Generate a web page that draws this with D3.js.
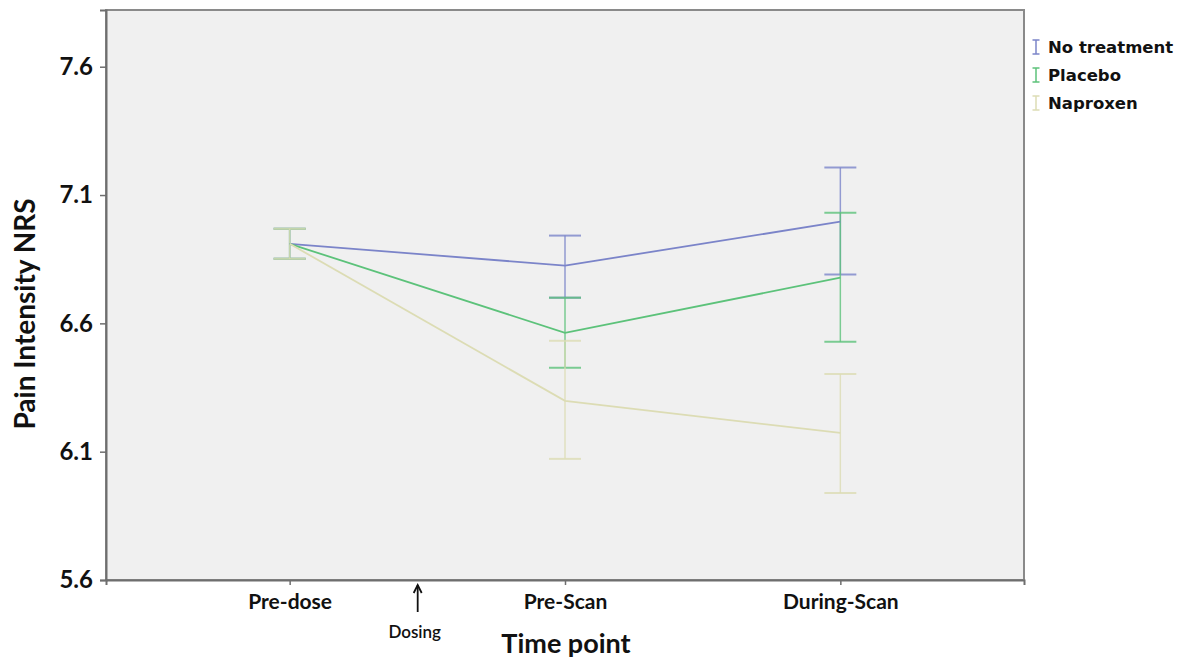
<!DOCTYPE html>
<html>
<head>
<meta charset="utf-8">
<script src="https://cdn.jsdelivr.net/npm/d3@7"></script>
<style>
  html, body { margin: 0; padding: 0; background: #ffffff; }
  svg { display: block; }
</style>
</head>
<body>
<svg id="chart" width="1191" height="661"></svg>
<script>
// ---- data ----
const timePoints = ["Pre-dose", "Pre-Scan", "During-Scan"];
const seriesNames = ["No treatment", "Placebo", "Naproxen"];
const noTreatmentMean = [6.91, 6.825, 6.996];
const noTreatmentLow  = [6.852, 6.700, 6.790];
const noTreatmentHigh = [6.969, 6.942, 7.207];
const placeboMean = [6.91, 6.563, 6.778];
const placeboLow  = [6.852, 6.427, 6.528];
const placeboHigh = [6.969, 6.700, 7.031];
const naproxenMean = [6.91, 6.298, 6.173];
const naproxenLow  = [6.852, 6.072, 5.939];
const naproxenHigh = [6.969, 6.532, 6.403];
const yTicks = [5.6, 6.1, 6.6, 7.1, 7.6];
const seriesColors = ["#7b84c9", "#5cc27a", "#dcdcb4"];

const series = [
  {name: seriesNames[0], mean: noTreatmentMean, low: noTreatmentLow, high: noTreatmentHigh, color: seriesColors[0]},
  {name: seriesNames[1], mean: placeboMean, low: placeboLow, high: placeboHigh, color: seriesColors[1]},
  {name: seriesNames[2], mean: naproxenMean, low: naproxenLow, high: naproxenHigh, color: seriesColors[2]}
];

// ---- layout ----
const svg = d3.select("#chart");
const L = 106, R = 1024, T = 10, B = 580;
const x = d3.scalePoint().domain(timePoints).range([L, R]).padding(0.667);
const y = d3.scaleLinear().domain([5.6, 7.821]).range([B, T]);
const font = "Lato, 'Open Sans', sans-serif";

// plot background
svg.append("rect").attr("x", L).attr("y", T).attr("width", R - L).attr("height", B - T)
  .attr("fill", "#f0f0f0").attr("stroke", "#8a8a8a").attr("stroke-width", 2);

// y axis
const yAxis = svg.append("g").attr("transform", `translate(${L},0)`)
  .call(d3.axisLeft(y).tickValues(yTicks).tickFormat(d3.format(".1f")).tickSize(6).tickPadding(7));
yAxis.select(".domain").attr("stroke", "#6e6e6e").attr("stroke-width", 2);
yAxis.selectAll(".tick line").attr("stroke", "#6e6e6e").attr("stroke-width", 1.5);
yAxis.selectAll(".tick text").attr("font-family", font).attr("font-weight", "bold")
  .attr("font-size", 24).attr("fill", "#111");

// x axis
const xAxis = svg.append("g").attr("transform", `translate(0,${B})`)
  .call(d3.axisBottom(x).tickSize(5).tickPadding(9));
xAxis.select(".domain").attr("stroke", "#6e6e6e").attr("stroke-width", 2);
xAxis.selectAll(".tick line").attr("stroke", "#6e6e6e").attr("stroke-width", 1.5);
xAxis.selectAll(".tick text").attr("font-family", font).attr("font-weight", "bold")
  .attr("font-size", 21).attr("fill", "#111");

// axis titles
svg.append("text").attr("transform", `translate(35,${(T + B) / 2 + 19}) rotate(-90)`)
  .attr("text-anchor", "middle").attr("font-family", font).attr("font-weight", "bold")
  .attr("font-size", 28).attr("fill", "#111").text("Pain Intensity NRS");
svg.append("text").attr("x", 566).attr("y", 653).attr("text-anchor", "middle")
  .attr("font-family", font).attr("font-weight", "bold").attr("font-size", 27)
  .attr("fill", "#111").text("Time point");

// dosing arrow
const step = x.step();
const dx = x(timePoints[0]) + step * 0.465;
svg.append("line").attr("x1", dx).attr("x2", dx).attr("y1", 612).attr("y2", 585)
  .attr("stroke", "#111").attr("stroke-width", 1.8);
svg.append("path").attr("d", `M${dx - 4},${593} L${dx},${585} L${dx + 4},${593}`)
  .attr("fill", "none").attr("stroke", "#111").attr("stroke-width", 1.8);
svg.append("text").attr("x", dx - 3).attr("y", 638).attr("text-anchor", "middle")
  .attr("font-family", font).attr("font-weight", 600).attr("font-size", 17)
  .attr("fill", "#111").text("Dosing");

// series
const capW = 16;
const line = d3.line().x((d, i) => x(timePoints[i])).y(d => y(d));
const plot = svg.append("g");
series.forEach(s => {
  const g = plot.append("g");
  timePoints.forEach((tp, i) => {
    const cx = x(tp);
    g.append("line").attr("x1", cx).attr("x2", cx).attr("y1", y(s.low[i])).attr("y2", y(s.high[i]))
      .attr("stroke", s.color).attr("stroke-width", 1.5).attr("stroke-opacity", 0.8);
    [s.low[i], s.high[i]].forEach(v => {
      g.append("line").attr("x1", cx - capW).attr("x2", cx + capW).attr("y1", y(v)).attr("y2", y(v))
        .attr("stroke", s.color).attr("stroke-width", 2).attr("stroke-opacity", 0.8);
    });
  });
});
series.forEach(s => {
  plot.append("path").datum(s.mean).attr("d", line).attr("fill", "none")
    .attr("stroke", s.color).attr("stroke-width", 1.8);
});

// legend
const legend = svg.append("g").attr("transform", `translate(${R + 12},47)`);
series.forEach((s, i) => {
  const g = legend.append("g").attr("transform", `translate(0,${i * 28})`);
  g.append("line").attr("x1", 0).attr("x2", 0).attr("y1", -7).attr("y2", 7).attr("stroke", s.color).attr("stroke-width", 1.5);
  g.append("line").attr("x1", -3.5).attr("x2", 3.5).attr("y1", -7).attr("y2", -7).attr("stroke", s.color).attr("stroke-width", 1.5);
  g.append("line").attr("x1", -3.5).attr("x2", 3.5).attr("y1", 7).attr("y2", 7).attr("stroke", s.color).attr("stroke-width", 1.5);
  g.append("text").attr("x", 12).attr("y", 0).attr("dy", "0.36em")
    .attr("font-family", "'DejaVu Sans', sans-serif").attr("font-weight", "bold").attr("font-size", 16.5)
    .attr("fill", "#111").text(s.name);
});
</script>
</body>
</html>
